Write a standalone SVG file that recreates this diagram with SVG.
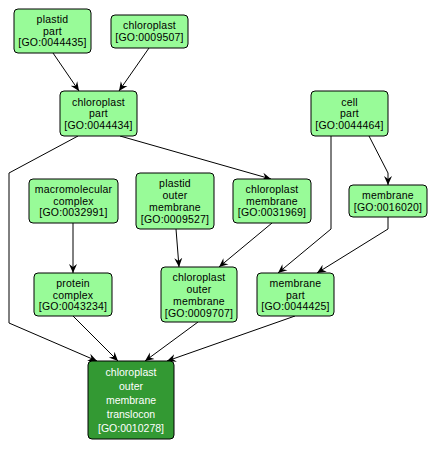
<svg xmlns="http://www.w3.org/2000/svg" width="437" height="451" viewBox="0 0 437 451">
<defs>
<marker id="arr" markerUnits="userSpaceOnUse" markerWidth="10" markerHeight="10" refX="9" refY="5" orient="auto" viewBox="0 0 10 10">
<path d="M0,1 L9,5 L0,9 L3,5 z" fill="#000"/>
</marker>
<style>
.n rect{fill:#98fb98;stroke:#000;stroke-width:1}
.n text{font-family:"Liberation Sans",Arial,sans-serif;font-size:10.5px;letter-spacing:0.2px;text-anchor:middle;fill:#000}
.f rect{fill:#339933;stroke:#000;stroke-width:1}
.f text{font-family:"Liberation Sans",Arial,sans-serif;font-size:10.5px;text-anchor:middle;fill:#fff}
.e path{fill:none;stroke:#000;stroke-width:1;marker-end:url(#arr)}
</style>
</defs>
<rect width="437" height="451" fill="#fff"/>
<g id="edges" class="e">
<path d="M53,53 L79,91"/>
<path d="M149,48 L119,91"/>
<path d="M120,136 L271,179"/>
<path d="M78,136 L9,173 L9,323 L97,361"/>
<path d="M331,136 L331,229 L278,273"/>
<path d="M369,136 L388,173 L388,185"/>
<path d="M388,217 L388,229 L317,273"/>
<path d="M272,223 L219,267"/>
<path d="M176,229 L179,267"/>
<path d="M73,223 L73,273"/>
<path d="M73,316 L118,361"/>
<path d="M198,322 L145,361"/>
<path d="M295,316 L167,361"/>
</g>
<g id="GO0044435" class="n">
<rect x="14" y="9" width="77" height="44" rx="4"/>
<text x="52.5" y="23.2">plastid</text>
<text x="52.5" y="34.7">part</text>
<text x="52.5" y="46.2">[GO:0044435]</text>
</g>
<g id="GO0009507" class="n">
<rect x="111" y="15" width="77" height="33" rx="4"/>
<text x="149.5" y="29.2">chloroplast</text>
<text x="149.5" y="40.7">[GO:0009507]</text>
</g>
<g id="GO0044434" class="n">
<rect x="60" y="91" width="77" height="45" rx="4"/>
<text x="98.5" y="105.7">chloroplast</text>
<text x="98.5" y="117.2">part</text>
<text x="98.5" y="128.7">[GO:0044434]</text>
</g>
<g id="GO0044464" class="n">
<rect x="311" y="91" width="77" height="45" rx="4"/>
<text x="349.5" y="105.7">cell</text>
<text x="349.5" y="117.2">part</text>
<text x="349.5" y="128.7">[GO:0044464]</text>
</g>
<g id="GO0032991" class="n">
<rect x="29" y="179" width="89" height="44" rx="4"/>
<text x="73.5" y="193.2">macromolecular</text>
<text x="73.5" y="204.7">complex</text>
<text x="73.5" y="216.2">[GO:0032991]</text>
</g>
<g id="GO0009527" class="n">
<rect x="136" y="173" width="78" height="56" rx="4"/>
<text x="175" y="187.2">plastid</text>
<text x="175" y="199.2">outer</text>
<text x="175" y="211.2">membrane</text>
<text x="175" y="223.2">[GO:0009527]</text>
</g>
<g id="GO0031969" class="n">
<rect x="233" y="179" width="78" height="44" rx="4"/>
<text x="272" y="193.2">chloroplast</text>
<text x="272" y="204.7">membrane</text>
<text x="272" y="216.2">[GO:0031969]</text>
</g>
<g id="GO0016020" class="n">
<rect x="349" y="185" width="78" height="32" rx="4"/>
<text x="388" y="199.2">membrane</text>
<text x="388" y="210.7">[GO:0016020]</text>
</g>
<g id="GO0043234" class="n">
<rect x="34" y="273" width="78" height="43" rx="4"/>
<text x="73" y="287.2">protein</text>
<text x="73" y="298.7">complex</text>
<text x="73" y="310.2">[GO:0043234]</text>
</g>
<g id="GO0009707" class="n">
<rect x="161" y="267" width="76" height="55" rx="4"/>
<text x="199" y="281.2">chloroplast</text>
<text x="199" y="293.2">outer</text>
<text x="199" y="305.2">membrane</text>
<text x="199" y="317.2">[GO:0009707]</text>
</g>
<g id="GO0044425" class="n">
<rect x="257" y="273" width="77" height="43" rx="4"/>
<text x="295.5" y="287.2">membrane</text>
<text x="295.5" y="298.7">part</text>
<text x="295.5" y="310.2">[GO:0044425]</text>
</g>
<g id="GO0010278" class="f">
<rect x="88" y="361" width="86" height="78" rx="4"/>
<text x="131" y="375.7">chloroplast</text>
<text x="131" y="389.7">outer</text>
<text x="131" y="403.7">membrane</text>
<text x="131" y="417.7">translocon</text>
<text x="131" y="431.7">[GO:0010278]</text>
</g>
</svg>
